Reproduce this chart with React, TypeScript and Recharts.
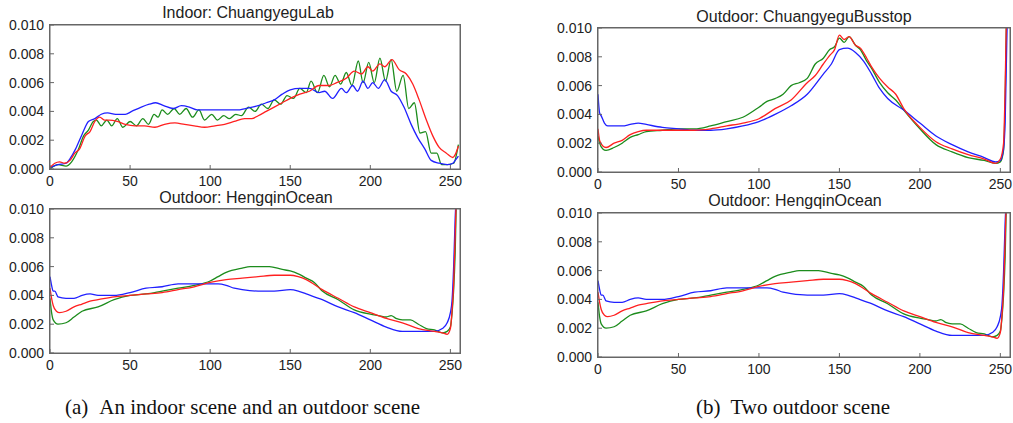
import React from "react";
import { LineChart, Line, XAxis, YAxis } from "recharts";

type Pt = [number, number];

// histogram values are per-mille (x 10^-3), bins 0..255
const BIN_TICKS = [0, 50, 100, 150, 200, 250];
const FREQ_TICKS = [0, 2, 4, 6, 8, 10];

const labBlue: Pt[] = [
  [0, 0.1], [5, 0.3], [10, 0.4], [13, 0.8], [16, 1.4], [20, 2.4], [24, 3.3], [28, 3.5],
  [32, 3.8], [36, 3.9], [41, 3.8], [47, 3.8], [51, 4.0], [57, 4.3], [62, 4.5], [66, 4.6],
  [71, 4.4], [77, 4.2], [82, 4.4], [87, 4.3], [92, 4.1], [100, 4.1], [109, 4.1], [117, 4.1],
  [122, 4.2], [130, 4.4], [135, 4.6], [140, 4.8], [145, 5.2], [150, 5.5], [156, 5.6],
  [162, 5.6], [168, 5.3], [171.5, 5.4], [176.5, 4.9], [182, 5.6], [185, 5.3], [189, 5.8],
  [192, 5.4], [195.5, 6.1], [198.5, 5.6], [201.5, 6.0], [205, 5.6], [209, 6.2], [213, 5.4],
  [217, 5.1], [221, 4.3], [225.5, 3.1], [229.5, 2.2], [234, 1.4], [238, 0.6], [243, 0.4],
  [248, 0.3], [251.5, 0.4], [253, 0.6], [255, 0.9],
];
const labGreen: Pt[] = [
  [0, 0], [5, 0.3], [10, 0.2], [13.5, 0.5], [17.5, 1.3], [21, 2.3], [24, 2.7], [27, 3.3],
  [29, 3.4], [32, 3.0], [35.5, 3.4], [38.5, 3.0], [42, 3.5], [45.5, 2.9], [50, 3.3], [54, 3.0],
  [58, 3.5], [61.5, 3.1], [65, 3.8], [67.5, 3.6], [70, 4.1], [73.5, 3.8], [77.5, 4.2],
  [81, 3.8], [85, 4.2], [89, 3.6], [93, 4.1], [96.5, 3.4], [101, 3.8], [104.5, 3.4],
  [108.5, 3.7], [112, 3.5], [116, 3.8], [119.5, 3.7], [124, 4.3], [128, 4.0], [132, 4.5],
  [136, 4.2], [140, 4.8], [144, 4.5], [148, 5.1], [152, 4.9], [156, 5.6], [160, 5.3],
  [163, 6.1], [167, 5.3], [171, 6.5], [174.5, 5.7], [178, 6.5], [181.5, 5.9], [185, 6.7],
  [188.5, 5.8], [192.5, 7.5], [195.5, 6.0], [199, 7.4], [202.5, 6.0], [206, 7.7],
  [209.5, 6.1], [213, 7.6], [216.5, 5.4], [220.5, 6.5], [224, 4.2], [227.5, 4.6], [231, 2.5],
  [234.5, 2.6], [238, 1.1], [241.5, 1.1], [244.5, 0.3], [248, 0.3], [252, 0.4], [255, 1.7],
];
const labRed: Pt[] = [
  [0, 0.1], [3, 0.4], [6, 0.5], [9, 0.4], [12.5, 0.6], [15.5, 1.1], [18.5, 1.4], [22, 2.3],
  [25, 2.6], [28, 3.3], [31, 3.6], [34, 3.4], [37, 3.4], [42, 3.3], [47, 3.1], [53, 3.0],
  [59, 3.0], [65.5, 2.9], [71.5, 3.1], [78, 3.2], [84, 3.1], [90, 3.0], [96.5, 2.9],
  [103, 3.0], [109, 3.1], [115, 3.3], [121.5, 3.5], [126, 3.5], [130, 3.7], [135, 4.0],
  [140, 4.3], [145, 4.6], [150, 4.9], [156, 5.2], [162, 5.4], [168, 5.8], [174.5, 5.8],
  [179, 6.0], [185, 6.3], [190, 6.8], [194.5, 6.6], [198.5, 7.1], [201.5, 6.8], [206, 7.3],
  [209, 7.1], [213.5, 7.6], [218, 6.9], [222.5, 6.6], [226.5, 5.9], [230.5, 4.8], [235, 3.4],
  [239, 2.3], [243, 1.5], [247.5, 1.1], [251.5, 0.8], [253, 1.0], [255, 1.6],
];

const oceanBlue: Pt[] = [
  [0, 5.3], [1, 4.7], [2, 4.3], [3, 4.3], [5, 3.9], [10, 3.8], [15, 3.8], [20, 4.0],
  [25, 4.1], [30, 4.0], [40, 4.0], [50, 4.2], [60, 4.5], [70, 4.6], [80, 4.8], [90, 4.8],
  [100, 4.8], [105, 4.8], [110, 4.7], [115, 4.5], [120, 4.4], [130, 4.3], [140, 4.3],
  [150, 4.4], [155, 4.3], [160, 4.1], [170, 3.7], [180, 3.2], [190, 2.8], [200, 2.3],
  [210, 1.8], [220, 1.5], [230, 1.5], [240, 1.5], [245, 1.7], [248, 2.1], [250, 2.8],
  [251, 3.6], [252, 5.9], [253, 9.4], [254, 12], [255, 14],
];
const oceanGreen: Pt[] = [
  [0, 3.8], [1, 2.8], [2, 2.3], [5, 2.0], [10, 2.1], [15, 2.5], [20, 2.9], [30, 3.2],
  [40, 3.7], [50, 4.0], [60, 4.1], [70, 4.3], [80, 4.5], [90, 4.7], [100, 5.0], [105, 5.3],
  [110, 5.6], [120, 5.9], [125, 6.0], [130, 6.0], [137, 6.0], [145, 5.8], [150, 5.7],
  [155, 5.5], [160, 5.2], [165, 4.9], [170, 4.3], [180, 3.7], [190, 3.0], [200, 2.7],
  [205, 2.6], [210, 2.5], [213, 2.6], [216, 2.4], [220, 2.3], [225, 2.3], [230, 2.0],
  [235, 1.7], [240, 1.6], [245, 1.4], [248, 1.5], [250, 1.8], [251, 2.7], [252, 4.3],
  [253, 7.0], [254, 12], [255, 14],
];
const oceanRed: Pt[] = [
  [0, 4.5], [1, 3.8], [2, 3.3], [4, 2.9], [6, 2.8], [10, 2.9], [15, 3.2], [20, 3.4],
  [25, 3.6], [30, 3.7], [40, 3.9], [50, 4.0], [60, 4.1], [70, 4.2], [80, 4.4], [90, 4.6],
  [100, 4.9], [110, 5.1], [120, 5.2], [130, 5.3], [140, 5.4], [150, 5.4], [155, 5.3],
  [160, 5.1], [170, 4.4], [180, 3.8], [190, 3.2], [200, 2.8], [210, 2.4], [220, 2.1],
  [230, 1.7], [240, 1.5], [245, 1.4], [248, 1.3], [250, 1.7], [251, 2.9], [252, 4.7],
  [253, 8.2], [254, 12], [255, 14],
];

const busBlue: Pt[] = [
  [0, 5.4], [1, 4.1], [2, 3.9], [4, 3.4], [6, 3.2], [10, 3.2], [15, 3.2], [20, 3.3],
  [25, 3.4], [30, 3.3], [40, 3.1], [50, 3.0], [60, 2.9], [70, 2.9], [80, 3.0], [90, 3.2],
  [100, 3.5], [110, 4.0], [120, 4.6], [130, 5.4], [140, 6.8], [145, 7.5], [150, 8.5],
  [155, 8.6], [160, 8.3], [165, 7.7], [170, 6.8], [175, 5.8], [180, 5.1], [190, 4.3],
  [200, 3.4], [210, 2.5], [220, 1.9], [230, 1.4], [240, 1.0], [247, 0.7], [250, 0.8],
  [252, 1.6], [253, 3.5], [254, 9], [255, 14],
];
const busGreen: Pt[] = [
  [0, 2.5], [1, 2.0], [3, 1.6], [5, 1.5], [10, 1.7], [15, 2.0], [20, 2.4], [25, 2.6],
  [30, 2.8], [40, 2.9], [50, 3.0], [60, 3.0], [70, 3.2], [80, 3.5], [90, 3.8], [100, 4.5],
  [105, 4.9], [110, 5.1], [115, 5.4], [120, 6.0], [125, 6.2], [130, 6.5], [135, 7.5],
  [140, 7.9], [144, 8.5], [147, 8.7], [150, 9.3], [153, 9.0], [156, 9.4], [160, 8.8],
  [163, 8.5], [167, 7.7], [170, 7.2], [175, 6.2], [180, 5.5], [185, 5.0], [190, 4.3],
  [200, 3.0], [210, 1.9], [220, 1.4], [230, 1.0], [240, 0.8], [247, 0.6], [250, 0.7],
  [252, 1.5], [253, 5.0], [254, 12], [255, 14],
];
const busRed: Pt[] = [
  [0, 3.0], [1, 2.2], [3, 1.8], [5, 1.7], [10, 2.0], [15, 2.2], [20, 2.6], [25, 2.8],
  [30, 2.9], [40, 2.9], [50, 2.9], [60, 2.9], [70, 3.0], [80, 3.2], [90, 3.4], [100, 3.7],
  [110, 4.4], [120, 5.0], [130, 6.2], [135, 6.7], [140, 7.5], [144, 8.1], [147, 8.5],
  [150, 9.5], [153, 9.2], [156, 9.4], [160, 8.8], [163, 8.6], [167, 7.9], [170, 7.3],
  [175, 6.5], [180, 5.9], [185, 5.4], [190, 4.4], [200, 3.1], [210, 2.1], [220, 1.6],
  [230, 1.2], [240, 0.9], [247, 0.6], [250, 0.9], [252, 2.0], [253, 6.0], [254, 12], [255, 14],
];

const BLUE = "#2020ff";
const GREEN = "#1c8c1c";
const RED = "#ff2020";
const AXIS = "#666666";
const SANS = "'Liberation Sans', Arial, Helvetica, sans-serif";
const SERIF = "'Liberation Serif', 'Times New Roman', serif";

interface PanelProps {
  left: number;
  top: number;
  width: number;
  height: number;
  title: string;
  titleX: number;
  titleY: number;
  blue: Pt[];
  green: Pt[];
  red: Pt[];
}

const toRows = (pts: Pt[]) => pts.map(([x, v]) => ({ x, v }));

function Panel({ left, top, width, height, title, titleX, titleY, blue, green, red }: PanelProps) {
  const tick = { fontSize: 14, fill: "#222", fontFamily: SANS };
  const line = { stroke: AXIS, strokeWidth: 1 };
  return (
    <div>
      <div
        style={{
          position: "absolute",
          left: titleX - 200,
          top: titleY,
          width: 400,
          textAlign: "center",
          fontFamily: SANS,
          fontSize: 16,
          lineHeight: "16px",
          color: "#222",
        }}
      >
        {title}
      </div>
      <div style={{ position: "absolute", left: left - 50, top: top - 10 }}>
        <LineChart
          width={width + 60}
          height={height + 40}
          margin={{ top: 9, right: 9, left: 0, bottom: 0 }}
        >
          <XAxis
            type="number"
            dataKey="x"
            domain={[0, 256]}
            allowDataOverflow
            ticks={BIN_TICKS}
            tick={tick}
            axisLine={line}
            tickLine={line}
            stroke={AXIS}
            tickSize={-4}
            tickMargin={11}
            height={30}
          />
          <XAxis
            xAxisId="top"
            orientation="top"
            type="number"
            dataKey="x"
            domain={[0, 256]}
            allowDataOverflow
            ticks={BIN_TICKS}
            tick={false}
            axisLine={line}
            tickLine={line}
            stroke={AXIS}
            tickSize={-4}
            height={1}
          />
          <YAxis
            type="number"
            domain={[0, 10]}
            allowDataOverflow
            ticks={FREQ_TICKS}
            tickFormatter={(v: number) => (v / 1000).toFixed(3)}
            tick={tick}
            axisLine={line}
            tickLine={line}
            stroke={AXIS}
            tickSize={-4}
            tickMargin={10}
            width={50}
          />
          <YAxis
            yAxisId="right"
            orientation="right"
            type="number"
            domain={[0, 10]}
            allowDataOverflow
            ticks={FREQ_TICKS}
            tick={false}
            axisLine={line}
            tickLine={line}
            stroke={AXIS}
            tickSize={-4}
            width={1}
          />
          <Line data={toRows(green)} dataKey="v" type="monotone" stroke={GREEN} strokeWidth={1.3} dot={false} activeDot={false} isAnimationActive={false} />
          <Line data={toRows(blue)} dataKey="v" type="monotone" stroke={BLUE} strokeWidth={1.3} dot={false} activeDot={false} isAnimationActive={false} />
          <Line data={toRows(red)} dataKey="v" type="monotone" stroke={RED} strokeWidth={1.3} dot={false} activeDot={false} isAnimationActive={false} />
        </LineChart>
      </div>
      <div
        style={{
          position: "absolute",
          left: left - 1,
          top: top - 1,
          width: width + 2,
          height: height + 2,
          boxSizing: "border-box",
          borderStyle: "solid",
          borderWidth: 1,
          borderColor: AXIS,
          pointerEvents: "none",
        }}
      />
    </div>
  );
}

const captionStyle: React.CSSProperties = {
  position: "absolute",
  top: 397,
  fontFamily: SERIF,
  fontSize: 21,
  lineHeight: "21px",
  color: "#111",
  whiteSpace: "nowrap",
};

export default function App() {
  return (
    <div
      style={{
        position: "absolute",
        left: 0,
        top: 0,
        width: 1013,
        height: 423,
        overflow: "hidden",
        background: "#fff",
      }}
    >
      <Panel left={50} top={25} width={410} height={144} title="Indoor: ChuangyeguLab" titleX={248} titleY={5} blue={labBlue} green={labGreen} red={labRed} />
      <Panel left={50} top={209} width={410} height={144} title="Outdoor: HengqinOcean" titleX={246} titleY={190} blue={oceanBlue} green={oceanGreen} red={oceanRed} />
      <Panel left={598} top={28} width={412} height={144} title="Outdoor: ChuangyeguBusstop" titleX={804} titleY={9} blue={busBlue} green={busGreen} red={busRed} />
      <Panel left={598} top={213} width={412} height={144} title="Outdoor: HengqinOcean" titleX={795} titleY={193} blue={oceanBlue} green={oceanGreen} red={oceanRed} />
      <div style={{ ...captionStyle, left: 65 }}>
        (a)<span style={{ marginLeft: 11 }}>An indoor scene and an outdoor scene</span>
      </div>
      <div style={{ ...captionStyle, left: 696 }}>
        (b)<span style={{ marginLeft: 10 }}>Two outdoor scene</span>
      </div>
    </div>
  );
}
